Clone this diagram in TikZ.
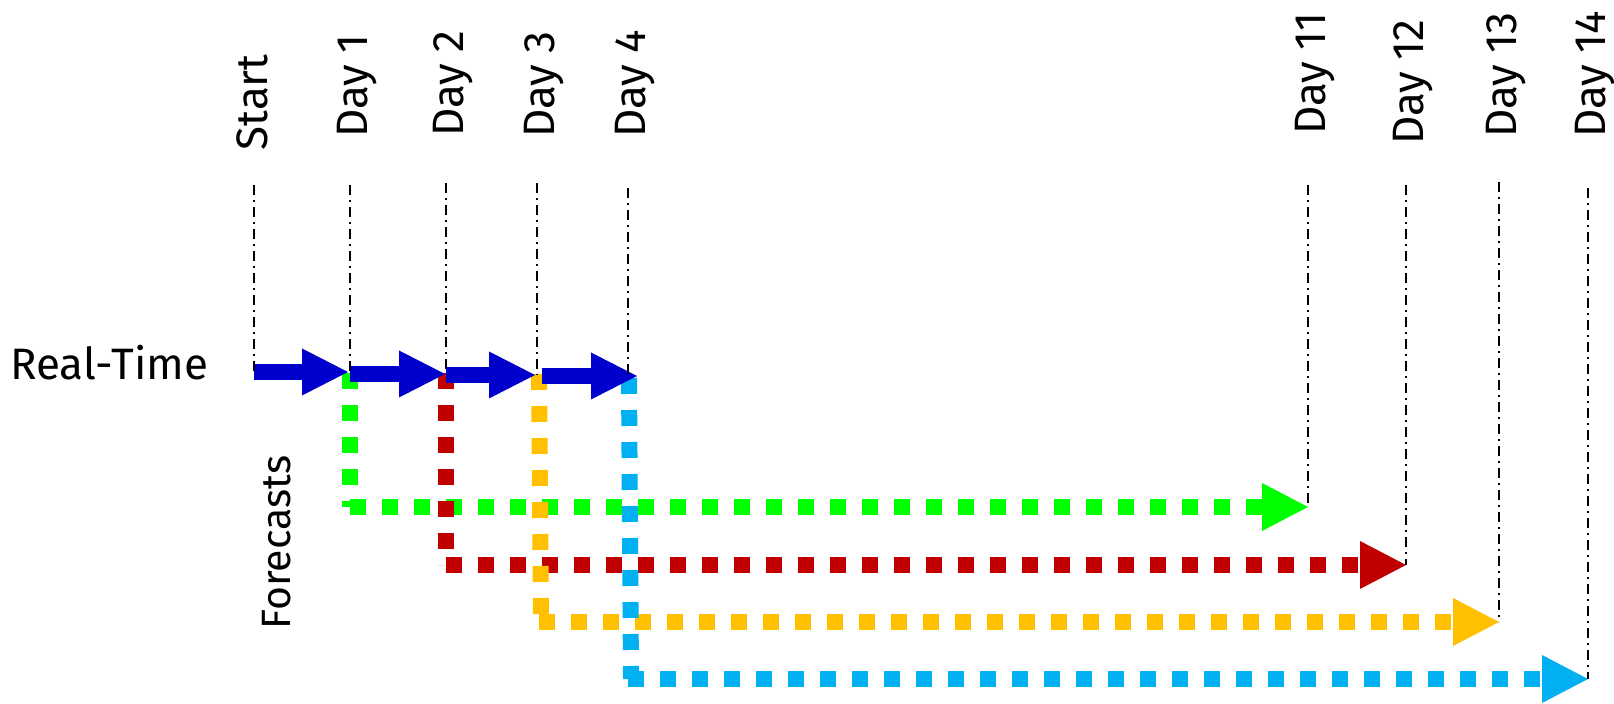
\documentclass[tikz,border=0pt]{standalone}
\usepackage{fontspec}
\setmainfont{Fira Sans}
\usetikzlibrary{arrows.meta}
\definecolor{rtblue}{RGB}{0,0,204}
\definecolor{fgreen}{RGB}{0,255,0}
\definecolor{fred}{RGB}{192,0,0}
\definecolor{fyellow}{RGB}{255,192,0}
\definecolor{fcyan}{RGB}{0,176,240}
\begin{document}
\begin{tikzpicture}[x=0.5pt,y=-0.5pt,
  guide/.style={draw=black,line width=1pt,dash pattern=on 5pt off 2.5pt on 1pt off 2.5pt},
  rtarrow/.style={draw=rtblue,line width=8pt,-{Triangle[length=23pt,width=23.5pt,line width=0pt]}},
  fcline/.style={line width=8pt,dash pattern=on 8pt off 8pt},
  fcarrow/.style={fcline,-{Triangle[length=23pt,width=24pt,line width=0pt]}},
  lbl/.style={rotate=90,anchor=base west,inner sep=0pt,font=\fontsize{22}{26}\selectfont},
]
\useasboundingbox (0,0) rectangle (1614,704);

% guide tops
\coordinate (gS) at (254,185);
\coordinate (g1) at (350,185);
\coordinate (g2) at (446,183);
\coordinate (g3) at (537,183);
\coordinate (g4) at (628,188);
\coordinate (g11) at (1308,185);
\coordinate (g12) at (1406,185);
\coordinate (g13) at (1499,182);
\coordinate (g14) at (1588,188);

% real-time points
\coordinate (r0) at (254,372);
\coordinate (r1a) at (348,372);
\coordinate (r1b) at (350,374);
\coordinate (r2a) at (445,374);
\coordinate (r2b) at (446,375);
\coordinate (r3a) at (535,375);
\coordinate (r3b) at (542,376);
\coordinate (r4a) at (637,376);

% forecast points
\coordinate (gA) at (350,373);
\coordinate (gB) at (350,507);
\coordinate (gC) at (1308,507);
\coordinate (rA) at (446,373);
\coordinate (rB) at (446,565);
\coordinate (rC) at (1406,565);
\coordinate (yA) at (539,374);
\coordinate (yB) at (541,622);
\coordinate (yB2) at (539,622);
\coordinate (yC) at (1499,622);
\coordinate (cA) at (629,378);
\coordinate (cB) at (631,679);
\coordinate (cB2) at (628,679);
\coordinate (cC) at (1588,679);

% labels
\node[anchor=base west,inner sep=0pt,font=\fontsize{22}{25}\selectfont] (rt) at (10,380) {Real-Time};
\node[lbl,font=\fontsize{20.5}{23}\selectfont] (fc) at (290,630) {Forecasts};
\node[lbl] (lS) at (267,151) {Start};
\node[lbl] (l1) at (367,138) {Day 1};
\node[lbl] (l2) at (463,137) {Day 2};
\node[lbl] (l3) at (554,138) {Day 3};
\node[lbl] (l4) at (645,138) {Day 4};
\node[lbl] (l11) at (1325,135) {Day 11};
\node[lbl] (l12) at (1423,145) {Day 12};
\node[lbl] (l13) at (1516,138) {Day 13};
\node[lbl] (l14) at (1605,138) {Day 14};

% forecasts
\draw[fcline,draw=fgreen] (gA) -- (gB);
\draw[fcarrow,draw=fgreen] (gB) -- (gC);
\draw[fcline,draw=fred] (rA) -- (rB);
\draw[fcarrow,draw=fred] (rB) -- (rC);
\draw[fcarrow,draw=fyellow] (yB2) -- (yC);
\draw[fcline,draw=fyellow] (yA) -- (yB);
\draw[fcarrow,draw=fcyan] (cB2) -- (cC);
\draw[fcline,draw=fcyan] (cA) -- (cB);

% real-time arrows
\draw[rtarrow] (r0) -- (r1a);
\draw[rtarrow] (r1b) -- (r2a);
\draw[rtarrow] (r2b) -- (r3a);
\draw[rtarrow] (r3b) -- (r4a);

% guides
\draw[guide] (gS) -- (r0);
\draw[guide] (g1) -- (g1 |- r1a);
\draw[guide] (g2) -- (g2 |- r2a);
\draw[guide] (g3) -- (g3 |- r3a);
\draw[guide] (g4) -- (g4 |- r4a);
\draw[guide] (g11) -- (g11 |- gC);
\draw[guide] (g12) -- (g12 |- rC);
\draw[guide] (g13) -- (g13 |- yC);
\draw[guide] (g14) -- (g14 |- cC);
\end{tikzpicture}
\end{document}
